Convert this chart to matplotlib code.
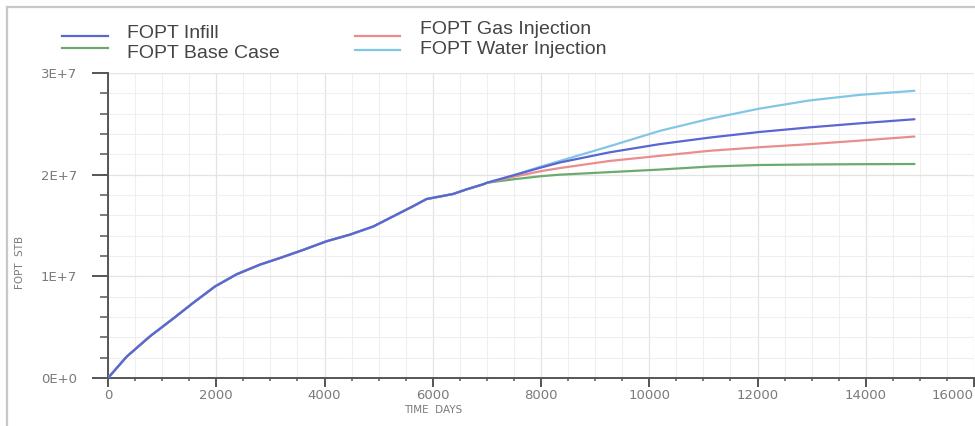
import matplotlib
matplotlib.use("Agg")
import matplotlib.pyplot as plt
from matplotlib.lines import Line2D
from matplotlib.ticker import MultipleLocator, FixedLocator

# Shared production history (days, cumulative oil in million STB)
hist_days = [0, 345, 776, 1206, 1576, 1976, 2376, 2807, 3176, 3607, 4038,
             4469, 4900, 5269, 5638, 5884, 6376, 6622, 6930]
hist_fopt = [0.0, 2.1, 4.1, 5.85, 7.4, 9.0, 10.2, 11.15, 11.8, 12.6, 13.45,
             14.1, 14.9, 15.9, 16.9, 17.6, 18.1, 18.55, 19.05]

# Forecast period for each development scenario (million STB)
fcst_days = [7000, 7500, 8000, 8350, 9270, 10190, 11120, 12040, 12960, 13890, 14900]
fopt_infill = [19.2, 19.95, 20.7, 21.2, 22.2, 23.0, 23.65, 24.2, 24.65, 25.05, 25.45]
fopt_base = [19.2, 19.55, 19.85, 20.0, 20.25, 20.5, 20.8, 20.95, 21.0, 21.03, 21.05]
fopt_gas = [19.2, 19.8, 20.35, 20.65, 21.35, 21.85, 22.35, 22.7, 23.0, 23.35, 23.75]
fopt_water = [19.2, 19.95, 20.8, 21.35, 22.8, 24.3, 25.5, 26.5, 27.3, 27.85, 28.25]

series_names = ["FOPT Infill", "FOPT Base Case", "FOPT Gas Injection", "FOPT Water Injection"]
x_ticks = [0, 2000, 4000, 6000, 8000, 10000, 12000, 14000, 16000]
y_ticks = [0, 1e7, 2e7, 3e7]
y_tick_labels = ["0E+0", "1E+7", "2E+7", "3E+7"]

colors = {
    "FOPT Infill": "#5a66d2",
    "FOPT Base Case": "#6daa6d",
    "FOPT Gas Injection": "#e98d8d",
    "FOPT Water Injection": "#82c6e6",
}
values = {
    "FOPT Infill": fopt_infill,
    "FOPT Base Case": fopt_base,
    "FOPT Gas Injection": fopt_gas,
    "FOPT Water Injection": fopt_water,
}

W, H = 975, 426
fig = plt.figure(figsize=(W / 100, H / 100), dpi=100)
fig.patch.set_facecolor("white")

# Axes placed in pixel terms: x from 108 to 974, y from 73 (top) to 378 (bottom)
ax = fig.add_axes([108 / W, 1 - 378 / H, (974 - 108) / W, (378 - 73) / H])
ax.set_facecolor("white")

# Fine background grid
ax.xaxis.set_minor_locator(MultipleLocator(500))
ax.yaxis.set_minor_locator(MultipleLocator(2e6))
ax.grid(which="minor", color="#efefef", linewidth=0.8)
ax.grid(which="major", color="#e3e3e3", linewidth=0.9)
ax.set_axisbelow(True)

draw_order = ["FOPT Base Case", "FOPT Gas Injection", "FOPT Water Injection", "FOPT Infill"]
for name in draw_order:
    xs = hist_days + fcst_days
    ys = [v * 1e6 for v in hist_fopt + values[name]]
    ax.plot(xs, ys, color=colors[name], linewidth=1.6, solid_capstyle="round",
            solid_joinstyle="round", zorder=3 if name != "FOPT Infill" else 4)

ax.set_xlim(0, 16000)
ax.set_ylim(0, 3e7)

ax.xaxis.set_major_locator(FixedLocator(x_ticks))
ax.yaxis.set_major_locator(FixedLocator(y_ticks))
ax.set_xticklabels([str(t) for t in x_ticks])
ax.set_yticklabels(y_tick_labels)

for s in ["top", "right"]:
    ax.spines[s].set_visible(False)
for s in ["left", "bottom"]:
    ax.spines[s].set_color("#555555")
    ax.spines[s].set_linewidth(1.4)

tick_color = "#555555"
label_color = "#7a7a7a"
ax.tick_params(axis="y", which="major", direction="out", length=11.5, width=1.4,
               color=tick_color, labelcolor=label_color, labelsize=9.5, pad=11)
ax.tick_params(axis="y", which="minor", direction="out", length=5.5, width=1.1,
               color=tick_color)
ax.tick_params(axis="x", which="major", direction="out", length=6.5, width=1.4,
               color=tick_color, labelcolor=label_color, labelsize=9.5, pad=1.5)
ax.tick_params(axis="x", which="minor", direction="out", length=2.5, width=1.1,
               color=tick_color)
xlabels = ax.get_xticklabels()
xlabels[-1].set_horizontalalignment("right")

# Axis titles
fig.text(433 / W, 1 - 410 / H, "TIME  DAYS", ha="center", va="center",
         fontsize=7.5, color=label_color)
fig.text(20 / W, 1 - 262 / H, "FOPT  STB", ha="center", va="center",
         rotation=90, fontsize=7.5, color=label_color)

# Legend drawn as two columns of line + label
legend_font = dict(fontsize=14, color="#444444", family="Liberation Sans",
                   va="center", ha="left")
legend_rows = [
    ("FOPT Infill", 62, 108, 36, 127, 34),
    ("FOPT Base Case", 62, 108, 48, 127, 54),
    ("FOPT Gas Injection", 355, 400, 36, 420, 30),
    ("FOPT Water Injection", 355, 400, 50, 420, 49),
]
for name, x0, x1, ly, tx, ty in legend_rows:
    fig.add_artist(Line2D([x0 / W, x1 / W], [1 - ly / H, 1 - ly / H],
                          transform=fig.transFigure, color=colors[name],
                          linewidth=1.6))
    fig.text(tx / W, 1 - ty / H, name, **legend_font)

# Panel frame (left and top edges)
fig.add_artist(Line2D([7 / W, 7 / W], [0, 1 - 7 / H], transform=fig.transFigure,
                      color="#c8c8c8", linewidth=1.6))
fig.add_artist(Line2D([7 / W, 1], [1 - 7 / H, 1 - 7 / H], transform=fig.transFigure,
                      color="#c8c8c8", linewidth=1.6))

fig.savefig("out.png", dpi=100, facecolor="white")
